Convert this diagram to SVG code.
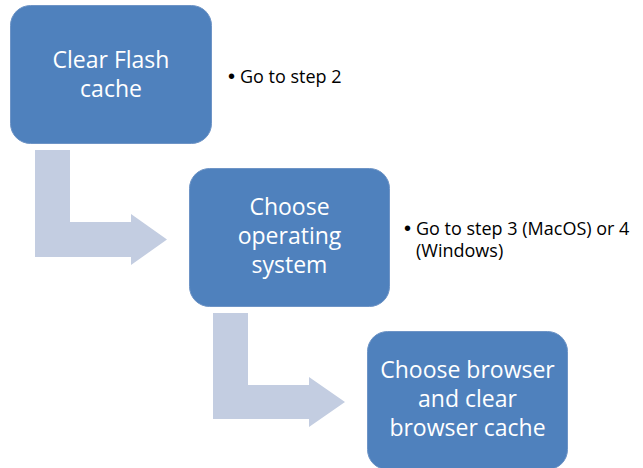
<svg xmlns="http://www.w3.org/2000/svg" width="643" height="468" viewBox="0 0 643 468">
<style>
.box{fill:#4F81BD;stroke:#6E94C6;stroke-width:1}
.arrow{fill:#C3CDE1}
.bt{font-family:"Open Sans","Liberation Sans",sans-serif;font-size:23px;fill:#FFFFFF;text-anchor:middle}
.bl{font-family:"Open Sans","Liberation Sans",sans-serif;font-size:18px;fill:#000000}
.bu{font-family:"Liberation Sans",sans-serif;font-size:20px;fill:#000000}
</style>
<rect width="643" height="468" fill="#FFFFFF"/>
<g id="connectors">
<path class="arrow" d="M35,150 H70 V222 H131 V214 L167,239.5 L131,265 V257 H35 Z"/>
<path class="arrow" d="M213,313 H248 V385 H309 V377 L345,402 L309,427 V419 H213 Z"/>
</g>
<g id="node1">
<rect class="box" x="10.5" y="5.5" width="201" height="138" rx="20"/>
<text class="bt" x="111" y="68">Clear Flash</text>
<text class="bt" x="111" y="97">cache</text>
</g>
<g id="note1">
<text class="bu" x="228" y="83">•</text>
<text class="bl" x="240" y="83">Go to step 2</text>
</g>
<g id="node2">
<rect class="box" x="189.5" y="168.5" width="200" height="138" rx="20"/>
<text class="bt" x="289.5" y="215">Choose</text>
<text class="bt" x="289.5" y="244">operating</text>
<text class="bt" x="289.5" y="273">system</text>
</g>
<g id="note2">
<text class="bu" x="404" y="235">•</text>
<text class="bl" x="416" y="235">Go to step 3 (MacOS) or 4</text>
<text class="bl" x="416" y="257">(Windows)</text>
</g>
<g id="node3">
<rect class="box" x="367.5" y="331.5" width="200" height="138" rx="20"/>
<text class="bt" x="467.5" y="378">Choose browser</text>
<text class="bt" x="467.5" y="407">and clear</text>
<text class="bt" x="467.5" y="436">browser cache</text>
</g>
</svg>
